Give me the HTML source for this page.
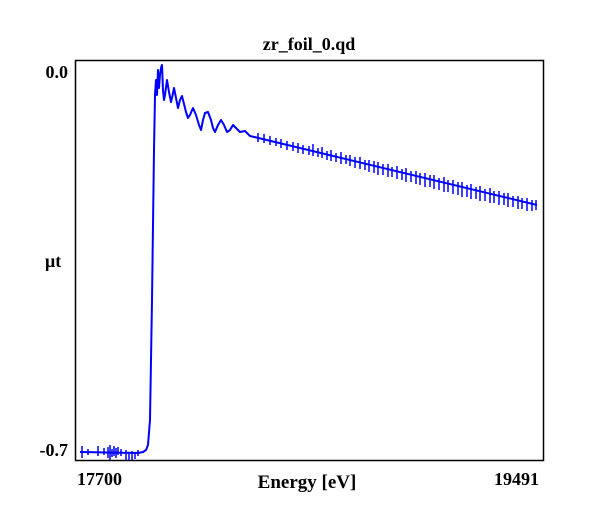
<!DOCTYPE html>
<html><head><meta charset="utf-8"><style>
html,body{margin:0;padding:0;background:#fff;}
svg{display:block;}
text{font-family:"Liberation Serif",serif;font-weight:bold;fill:#000;}
</style></head><body>
<svg width="600" height="520" viewBox="0 0 600 520">
<rect x="75.5" y="60.5" width="468" height="400" fill="none" stroke="#000" stroke-width="1.5"/>
<text x="309" y="50" font-size="18" text-anchor="middle">zr_foil_0.qd</text>
<text x="68" y="78" font-size="18" text-anchor="end">0.0</text>
<text x="68" y="456" font-size="18" text-anchor="end">-0.7</text>
<text x="45" y="267" font-size="18">μt</text>
<text x="77" y="485" font-size="18">17700</text>
<text x="539" y="485" font-size="18" text-anchor="end">19491</text>
<text x="307" y="488" font-size="19" text-anchor="middle">Energy [eV]</text>
<g fill="none" stroke="#0000ff" stroke-width="2" stroke-linejoin="round">
<polyline points="80,452 138,453 143,452 146,450 148,445 150,420 152,300 154,150 155,95 156,80 157,95 158,70 159,88 160,75 161,68 162,65 163,90 164,100 165,95 167,80 169,92 171,102 172,98 174,88 176,98 178,108 180,100 182,96 184,104 186,112 188,118 190,115 193,108 196,115 199,125 201,130 203,120 205,113 208,112 211,120 213,128 215,132 218,125 221,120 224,125 227,132 230,130 233,125 236,128 240,132 245,131 250,136 537,205"/>
<path stroke-width="1.5" d="M82,446V458 M88,449V455 M98,446V456 M104,448V455 M108,447V458 M110,445V460 M112,449V457 M114,446V456 M116,448V458 M118,447V455 M121,449V456 M126,450V460 M129,452V460 M132,451V460 M135,452V459 M138,450V456
M258,133V142 M264,134V143 M270,136V145 M276,138V146 M281,139V148 M287,141V150 M293,142V151 M298,143V153 M303,145V154 M309,146V155 M313,144V156 M318,148V157 M322,147V158 M327,151V160 M331,150V161 M336,153V162 M341,152V164 M346,155V164 M350,155V166 M355,157V168 M360,157V169 M365,160V170 M369,160V172 M374,161V173 M378,162V175 M383,164V175 M388,164V177 M392,167V177 M397,166V179 M402,169V180 M406,168V182 M411,171V182 M416,171V184 M420,173V185 M425,173V187 M430,175V187 M434,175V189 M439,178V190 M444,177V192 M448,180V192 M453,180V194 M458,182V195 M462,182V197 M467,185V197 M471,184V199 M476,187V199 M480,186V201 M485,189V201 M490,188V203 M494,191V203 M499,191V205 M504,193V205 M508,193V207 M513,196V207 M518,196V209 M522,198V209 M527,198V211 M532,200V211 M536,200V210"/>
</g>
</svg>
</body></html>
